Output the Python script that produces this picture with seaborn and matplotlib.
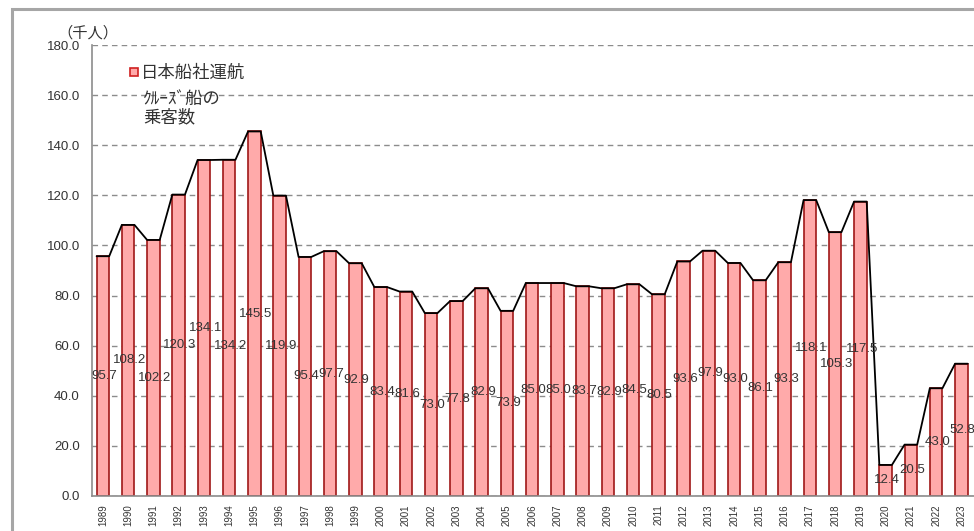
import matplotlib.pyplot as plt
import matplotlib.patches as mpatches
from matplotlib.lines import Line2D
import seaborn as sns

# passengers of Japanese-operated cruise ships (thousand persons)
years = [str(y) for y in range(1989, 2024)]
passengers = [95.7, 108.2, 102.2, 120.3, 134.1, 134.2, 145.5, 119.9, 95.4, 97.7,
              92.9, 83.4, 81.6, 73.0, 77.8, 82.9, 73.9, 85.0, 85.0, 83.7,
              82.9, 84.5, 80.5, 93.6, 97.9, 93.0, 86.1, 93.3, 118.1, 105.3,
              117.5, 12.4, 20.5, 43.0, 52.8]
yticks = [0, 20, 40, 60, 80, 100, 120, 140, 160, 180]
unit_label = "（千人）"
legend_lines = ["日本船社運航", "ｸﾙｰｽﾞ船の", "乗客数"]

sns.set_style("white")
plt.rcParams['font.family'] = ['Liberation Sans', 'Noto Sans CJK JP', 'DejaVu Sans']

fig = plt.figure(figsize=(9.74, 5.31), dpi=100)
ax = fig.add_axes([92.3 / 974, 1 - 496 / 531, 1 - 92.3 / 974, (496 - 45) / 531])

# grey outer frame of the chart area (right/bottom cut off in the original)
fig.patches.append(mpatches.Rectangle((12 / 974, -0.05), 1.2, 1 - 9 / 531 + 0.05,
                                      transform=fig.transFigure, fill=False,
                                      edgecolor='#a6a6a6', linewidth=2.2, zorder=0))

bar_face = '#ffaaaa'
bar_edge = '#a01818'
sns.barplot(x=years, y=passengers, color=bar_face, saturation=1, width=0.5,
            edgecolor=bar_edge, linewidth=1.2, ax=ax, zorder=2)

# line running along the bar tops
xs, ys = [], []
for p in ax.patches:
    x0 = p.get_x()
    xs += [x0, x0 + p.get_width()]
    ys += [p.get_height(), p.get_height()]
ax.plot(xs, ys, color='black', linewidth=1.3, zorder=3)

# value labels in the middle of each bar; long labels that would collide
# with the previous one are pushed a bit lower
prev_y = None
for i, v in enumerate(passengers):
    y = v / 2
    if prev_y is not None and v >= 100 and passengers[i - 1] >= 100 \
            and abs(y - prev_y) < 4:
        y = prev_y - 7
    ax.text(i + 0.05, y, f"{v:.1f}", ha='center', va='center',
            fontsize=9.5, color='#333333', zorder=4)
    prev_y = y

ax.set_ylim(0, 180)
ax.set_xlim(-0.42, len(years) - 0.5)
ax.set_yticks(yticks)
ax.set_yticklabels([f"{t:.1f}" for t in yticks])
ax.yaxis.grid(True, color='#8c8c8c', linestyle=(0, (4, 3)), linewidth=1)
ax.set_axisbelow(True)

ax.tick_params(axis='y', length=0, pad=9, labelsize=9.5, labelcolor='#333333')
ax.tick_params(axis='x', which='major', length=0, pad=6, labelsize=7,
               labelcolor='#333333', labelrotation=90)
ax.set_xticks([i + 0.5 for i in range(len(years) - 1)], minor=True)
ax.tick_params(axis='x', which='minor', direction='in', length=3, width=1,
               color='#8c8c8c')
ax.set_xlabel("")
ax.set_ylabel("")

for s in ['top', 'right']:
    ax.spines[s].set_visible(False)
for s in ['left', 'bottom']:
    ax.spines[s].set_color('#8c8c8c')
    ax.spines[s].set_linewidth(1.2)

fig.text(88 / 974, 1 - 33 / 531, unit_label, ha='center', va='center',
         fontsize=11, color='#333333')

handle = Line2D([], [], marker='s', linestyle='none', markersize=6,
                markerfacecolor=bar_face, markeredgecolor='#d02020',
                markeredgewidth=1.2)
ax.legend([handle], [legend_lines[0]], loc='center left',
          bbox_to_anchor=((129 - 92.3) / 882, 1 - (73 - 45) / 451),
          frameon=False, borderpad=0, borderaxespad=0, handlelength=0.6,
          handletextpad=0.1, fontsize=12.5, labelcolor='#333333')
ax.text((143 - 92.3) / 882, 1 - (108 - 45) / 451, "\n".join(legend_lines[1:]),
        transform=ax.transAxes, ha='left', va='center', fontsize=12.5,
        linespacing=1.1, color='#333333')

fig.savefig("out.png", dpi=100)
